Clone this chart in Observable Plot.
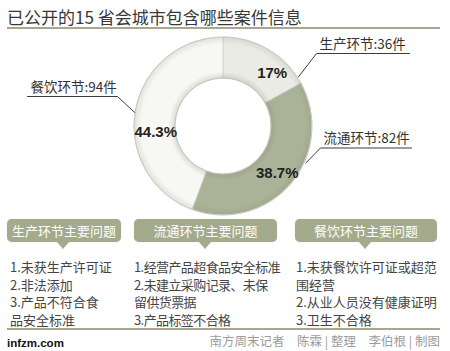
<!DOCTYPE html>
<html><head><meta charset="utf-8">
<script src="https://cdn.jsdelivr.net/npm/d3@7"></script>
<script src="https://cdn.jsdelivr.net/npm/@observablehq/plot@0.6"></script>
<style>
body{margin:0;background:#fff;font-family:"Noto Sans CJK SC","Noto Sans",sans-serif;}
#wrap{position:relative;width:450px;height:351px;overflow:hidden;background:#fff;}
.abs{position:absolute;white-space:nowrap;}
#title{left:7px;top:6px;font-size:17px;line-height:22px;color:#383838;}
.rule{position:absolute;left:7px;width:433px;height:2px;background:#a8a692;}
.box{position:absolute;top:219px;height:23px;border-radius:5px;background:#a3ab8c;color:#fff;font-size:13px;line-height:23px;text-align:center;box-shadow:0 0 1px rgba(0,0,0,0.25);}
.box::after{content:"";position:absolute;left:50%;top:23px;margin-left:-7px;border-left:6px solid transparent;border-right:6px solid transparent;border-top:7px solid #a3ab8c;}
.list{position:absolute;top:258px;font-size:13px;line-height:17.5px;color:#444;white-space:nowrap;}
#chart{position:absolute;left:0;top:30px;}
#src{left:7px;top:335px;font-family:"Liberation Sans",Arial,sans-serif;font-weight:bold;font-size:11.5px;line-height:16px;color:#111;}
#credit{right:10px;top:332px;font-size:12.5px;line-height:18px;color:#9c9c9c;}
</style></head><body><div id="wrap"></div>
<script>
// ---- data ----
const title = "已公开的15 省会城市包含哪些案件信息";
const categories = ["生产环节", "流通环节", "餐饮环节"];
const counts = [36, 82, 94];
const sliceColors = ["#eaebe4", "#aab397", "#f7f7f3"];
const issueTitles = ["生产环节主要问题", "流通环节主要问题", "餐饮环节主要问题"];
const productionIssues = ["1.未获生产许可证", "2.非法添加", "3.产品不符合食", "品安全标准"];
const circulationIssues = ["1.经营产品超食品安全标准", "2.未建立采购记录、未保", "留供货票据", "3.产品标签不合格"];
const cateringIssues = ["1.未获餐饮许可证或超范", "围经营", "2.从业人员没有健康证明", "3.卫生不合格"];
const source = "infzm.com";
const credit = "南方周末记者　陈霖 | 整理　李伯根 | 制图";

// ---- layout ----
const W = 450, H = 186;           // svg size
const CX = 223, CY = 96;          // donut centre (svg coords)
const R = 89, r = 48;             // radii
const pctShift = [12, 0, -15];    // angular nudge of percentage labels (deg)
const pctRad = [72, 71, 68];
const leaderLayout = [            // leader angle (deg), elbow x/y, underline end x
  {angle: 56.5, ex: 316, ey: 23, end: 409},
  {angle: 114, ex: 320, ey: 117.5, end: 411},
  {angle: 279, ex: 117, ey: 66, end: 27}
];

const wrap = document.getElementById("wrap");
const add = (html) => wrap.insertAdjacentHTML("beforeend", html);
add(`<div id="title" class="abs">${title}</div>`);
add(`<div class="rule" style="top:27px"></div>`);

const total = d3.sum(counts);
const fmt = d3.format(".1~f");
const pie = d3.pie().sort(null).value(d => d.count);
const table = categories.map((c, i) => ({cat: c, count: counts[i], color: sliceColors[i], pct: fmt(counts[i] / total * 100) + "%"}));
const arcs = pie(table);
const deg = Math.PI / 180;

function ring(index, scales) {
  const g = d3.create("svg:g");
  const cx = scales.x(CX), cy = scales.y(CY);
  const gid = "ringShade";
  const defs = g.append("defs");
  const grad = defs.append("radialGradient").attr("id", gid).attr("gradientUnits", "userSpaceOnUse")
    .attr("cx", 0).attr("cy", 0).attr("r", R);
  [[r / R, 0.2], [r / R + 0.07, 0], [0.92, 0], [1, 0.15]].forEach(([o, a]) =>
    grad.append("stop").attr("offset", o).attr("stop-color", "#6d6d60").attr("stop-opacity", a));
  const gg = g.append("g").attr("transform", `translate(${cx},${cy})`);
  const arc = d3.arc().innerRadius(r).outerRadius(R);
  gg.selectAll("path.s").data(arcs).join("path").attr("class", "s")
    .attr("d", arc).attr("fill", d => d.data.color)
    .attr("stroke", "#d2d2c8").attr("stroke-width", 0.8);
  gg.append("path").attr("d", d3.arc().innerRadius(r).outerRadius(R).startAngle(0).endAngle(2 * Math.PI)())
    .attr("fill", `url(#${gid})`);
  gg.append("circle").attr("r", R).attr("fill", "none").attr("stroke", "#cdcdc3").attr("stroke-width", 1);
  gg.append("circle").attr("r", r).attr("fill", "none").attr("stroke", "#c8c8be").attr("stroke-width", 1);
  return g.node();
}

const leaders = [];
const labels = [];
arcs.forEach((a, i) => {
  const L = leaderLayout[i];
  const px = CX + (R + 1) * Math.sin(L.angle * deg), py = CY - (R + 1) * Math.cos(L.angle * deg);
  leaders.push({cat: a.data.cat, x: px, y: py}, {cat: a.data.cat, x: L.ex, y: L.ey}, {cat: a.data.cat, x: L.end, y: L.ey});
  labels.push({text: `${a.data.cat}:${a.data.count}件`, x: Math.min(L.ex, L.end) + 3, y: L.ey - 9});
});
const pcts = arcs.map((a, i) => {
  const m = (a.startAngle + a.endAngle) / 2 + pctShift[i] * deg;
  return {text: a.data.pct, x: CX + pctRad[i] * Math.sin(m), y: CY - pctRad[i] * Math.cos(m)};
});

const svg = Plot.plot({
  width: W, height: H, margin: 0,
  x: {domain: [0, W], axis: null},
  y: {domain: [0, H], reverse: true, axis: null},
  marks: [
    ring,
    Plot.line(leaders, {x: "x", y: "y", z: "cat", stroke: "#3a3a3a", strokeWidth: 1}),
    Plot.text(labels, {x: "x", y: "y", text: "text", textAnchor: "start", fontSize: 13.5, fill: "#333", fontFamily: "Noto Sans CJK SC"}),
    Plot.text(pcts, {x: "x", y: "y", text: "text", fontSize: 15, fontWeight: "bold", fill: "#222", fontFamily: "Liberation Sans Narrow, Liberation Sans, sans-serif"})
  ]
});
svg.id = "chart";
wrap.appendChild(svg);

// ---- bottom panels ----
const boxLeft = [7, 134, 295], boxWidth = [114, 143, 142], listLeft = [10, 134, 296];
const lists = [productionIssues, circulationIssues, cateringIssues];
issueTitles.forEach((t, i) => {
  add(`<div class="box" style="left:${boxLeft[i]}px;width:${boxWidth[i]}px">${t}</div>`);
  add(`<div class="list" style="left:${listLeft[i]}px;${i === 1 ? "letter-spacing:-0.6px;" : ""}">${lists[i].join("<br>")}</div>`);
});
add(`<div class="rule" style="top:328px"></div>`);
add(`<div id="src" class="abs">${source}</div>`);
add(`<div id="credit" class="abs">${credit}</div>`);
</script></body></html>
